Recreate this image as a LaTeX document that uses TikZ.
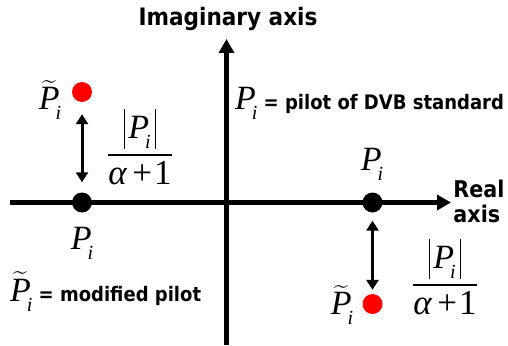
\documentclass[tikz,border=0pt]{standalone}
\usepackage{amsmath}
\usepackage{fontspec}
\setmainfont{DejaVu Sans}[FakeStretch=0.9]
\newfontfamily\tms{Liberation Serif}
\usetikzlibrary{arrows.meta}
\newcommand\Pl{\mbox{\fontsize{34}{34}\selectfont\tms\mdseries\itshape P\kern-0.12em\raisebox{-0.3em}{\fontsize{20}{20}\selectfont i}}}
\newcommand\Pt{\mbox{\fontsize{34}{34}\selectfont\tms\mdseries\itshape $\widetilde{\hbox{P}}$\kern-0.12em\raisebox{-0.3em}{\fontsize{20}{20}\selectfont i}}}
\newcommand\absbar{\vrule width 1.3pt height 30pt depth 10pt}
\newcommand\Fr{\mbox{\fontsize{34}{34}\selectfont\tms\mdseries$\genfrac{}{}{1.8pt}{0}{\hbox{\absbar\kern3pt\Pl\kern4pt\absbar}}{\hbox{\fontsize{35}{35}\selectfont\itshape α\kern0.16em\upshape+\kern0.06em1}}$}}
\begin{document}
\begin{tikzpicture}[x=1pt,y=-1pt,
  axis/.style={line width=5pt,-{Triangle[length=14pt,width=15pt]}},
  dbl/.style={line width=3pt,{Triangle[length=10pt,width=12pt]}-{Triangle[length=10pt,width=12pt]}},
  bdot/.style={circle,fill=black,minimum size=20pt,inner sep=0pt},
  rdot/.style={circle,fill=red,minimum size=20pt,inner sep=0pt},
  lbl/.style={inner sep=0pt,font=\bfseries\fontsize{20}{22}\selectfont},
  mth/.style={inner sep=0pt}]
\useasboundingbox (0,0) rectangle (508,345);
\coordinate (hl) at (10,202.5);
\coordinate (hr) at (451,202.5);
\coordinate (vb) at (226.5,345);
\coordinate (vt) at (226.5,39);
\draw[axis] (hl) -- (hr);
\draw[axis] (vb) -- (vt);
\node[bdot] (b1) at (82,202.5) {};
\node[rdot] (r1) at (82,92) {};
\node[bdot] (b2) at (372.5,202.5) {};
\node[rdot] (r2) at (372.5,304) {};
\draw[dbl,shorten <=12pt,shorten >=10pt] (r1) -- (b1);
\draw[dbl,shorten <=8pt,shorten >=4pt] (b2) -- (r2);
\node[lbl,font=\bfseries\fontsize{24}{24}\selectfont,anchor=base] (imag) at (228,26) {Imaginary axis};
\node[lbl,font=\bfseries\fontsize{23}{25}\selectfont,align=left] (real) at (479,201) {Real\\axis};
\node[lbl,anchor=base west] (dvb) at (235,109) {\Pl\ = pilot of DVB standard};
\node[lbl,anchor=base west] (mod) at (10,301) {\Pt\ = modified pilot};
\node[mth] (pt1) at (50,100) {\Pt};
\node[mth] (p1) at (82,243) {\Pl};
\node[mth] (p2) at (372,164) {\Pl};
\node[mth] (pt2) at (342,305) {\Pt};
\node[mth,anchor=base] (f1) at (140,161.5) {\Fr};
\node[mth,anchor=base] (f2) at (445,291.5) {\Fr};
\end{tikzpicture}
\end{document}
